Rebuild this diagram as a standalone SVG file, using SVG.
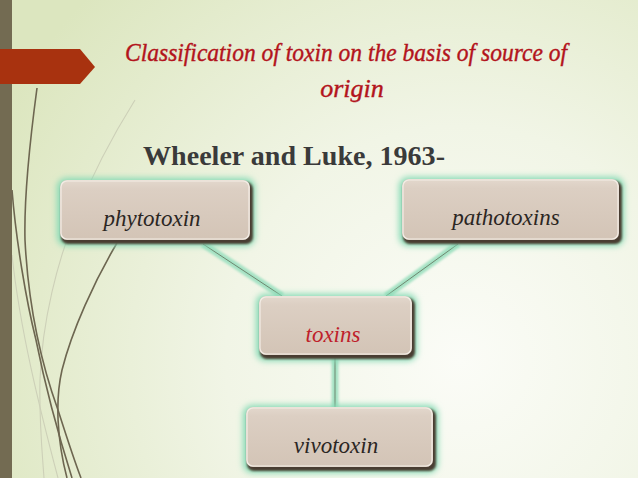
<svg xmlns="http://www.w3.org/2000/svg" width="638" height="478" viewBox="0 0 638 478">
<defs>
<radialGradient id="bg" cx="460" cy="360" r="520" gradientUnits="userSpaceOnUse">
<stop offset="0" stop-color="#fbfcf7"/>
<stop offset="0.45" stop-color="#f1f5e6"/>
<stop offset="1" stop-color="#dce6bf"/>
</radialGradient>
<linearGradient id="boxfill" x1="0" y1="0" x2="0" y2="1">
<stop offset="0" stop-color="#e3d8cd"/>
<stop offset="0.15" stop-color="#dccfc3"/>
<stop offset="1" stop-color="#d3c4b6"/>
</linearGradient>
<filter id="glow" x="-20%" y="-30%" width="140%" height="160%">
<feGaussianBlur stdDeviation="3"/>
</filter>
<filter id="shadow" x="-10%" y="-20%" width="120%" height="140%">
<feGaussianBlur stdDeviation="1.2"/>
</filter>
<filter id="lglow" filterUnits="userSpaceOnUse" x="0" y="0" width="638" height="478">
<feGaussianBlur stdDeviation="1.3"/>
</filter>
</defs>
<style>
.glow{fill:#86dab5;filter:url(#glow)}
.shd{fill:#4a3d30;filter:url(#shadow)}
.box{fill:url(#boxfill)}
.hl{fill:none;stroke:#f3ede6;stroke-width:1.2}
.lbl{font-family:"Liberation Serif","DejaVu Serif",serif;font-style:italic;font-size:23px;fill:#2b2623;text-anchor:middle}
.red{fill:#bf1f2b}
.cg{stroke:#a6e2c4;stroke-width:7;fill:none;filter:url(#lglow)}
.cl{stroke:#6f8770;stroke-width:1;fill:none}
.wd{fill:none;stroke:#6d6650;stroke-width:1.6}
.wf{fill:none;stroke:#cdd0b8;stroke-width:1.1}
</style>
<rect width="638" height="478" fill="url(#bg)"/>
<g id="wisps">
<path class="wf" d="M135,100 C110,140 90,180 76,215 C58,260 42,320 40,380 C39,420 42,450 44,478"/>
<path class="wf" d="M12,255 C20,330 40,410 58,478"/>
<path class="wd" d="M37,88 C30,140 24,200 25,240 C28,300 40,360 58,410 C66,435 74,460 81,478"/>
<path class="wd" d="M12,190 C16,240 26,300 36,340 C46,390 60,440 72,478"/>
<path class="wd" stroke-width="1.3" d="M117,243 C95,280 72,330 62,370 C55,400 57,440 67,478"/>
</g>
<rect x="0" y="0" width="12" height="478" fill="#736b52"/>
<polygon points="0,49 80,49 95,67 80,84 0,84" fill="#a8320f"/>
<g id="title">
<text x="346" y="61" font-family="Liberation Serif, DejaVu Serif, serif" font-style="italic" font-size="26" fill="#b3141c" stroke="#b3141c" stroke-width="0.4" text-anchor="middle" textLength="442" lengthAdjust="spacingAndGlyphs">Classification of toxin on the basis of source of</text>
<text x="352" y="97" font-family="Liberation Serif, DejaVu Serif, serif" font-style="italic" font-size="26" fill="#b3141c" stroke="#b3141c" stroke-width="0.4" text-anchor="middle">origin</text>
</g>
<text id="subtitle" x="143" y="165" font-family="Liberation Serif, Times New Roman, serif" font-weight="bold" font-size="28" fill="#3a3a3a" textLength="302" lengthAdjust="spacingAndGlyphs">Wheeler and Luke, 1963-</text>
<g id="connectors">
<path class="cg" d="M203,244 L282,296"/>
<path class="cg" d="M458,244 L386,296"/>
<path class="cg" d="M335,358 L335,408"/>
<path class="cl" d="M203,244 L282,296"/>
<path class="cl" d="M458,244 L386,296"/>
<path class="cl" d="M335,358 L335,408"/>
</g>
<g id="phytotoxin">
<rect class="glow" x="57" y="178" width="198" height="68" rx="9"/>
<rect class="shd" x="61" y="182" width="192" height="62" rx="7"/>
<rect class="box" x="60" y="180" width="190" height="60" rx="7"/>
<rect class="hl" x="61" y="181" width="188" height="58" rx="6"/>
<text class="lbl" x="152" y="226">phytotoxin</text>
</g>
<g id="pathotoxins">
<rect class="glow" x="399" y="177" width="225" height="69" rx="9"/>
<rect class="shd" x="403" y="181" width="219" height="63" rx="7"/>
<rect class="box" x="402" y="179" width="217" height="61" rx="7"/>
<rect class="hl" x="403" y="180" width="215" height="59" rx="6"/>
<text class="lbl" x="506" y="225">pathotoxins</text>
</g>
<g id="toxins">
<rect class="glow" x="256" y="294" width="161" height="67" rx="9"/>
<rect class="shd" x="260" y="298" width="155" height="61" rx="7"/>
<rect class="box" x="259" y="296" width="153" height="59" rx="7"/>
<rect class="hl" x="260" y="297" width="151" height="57" rx="6"/>
<text class="lbl red" x="333" y="342">toxins</text>
</g>
<g id="vivotoxin">
<rect class="glow" x="243" y="405" width="195" height="68" rx="9"/>
<rect class="shd" x="247" y="409" width="189" height="62" rx="7"/>
<rect class="box" x="246" y="407" width="187" height="60" rx="7"/>
<rect class="hl" x="247" y="408" width="185" height="58" rx="6"/>
<text class="lbl" x="336" y="453">vivotoxin</text>
</g>
</svg>
